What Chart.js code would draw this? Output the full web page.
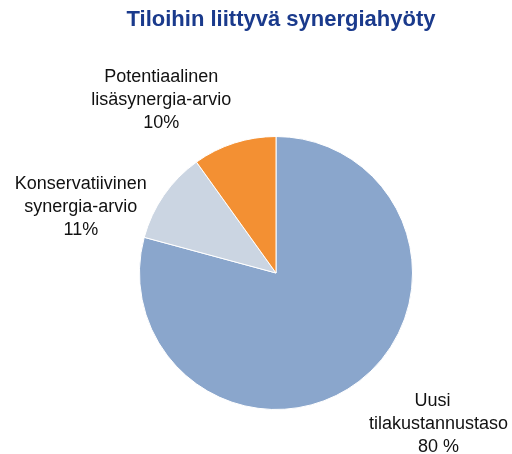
<!DOCTYPE html>
<html>
<head>
<meta charset="utf-8">
<script src="https://cdn.jsdelivr.net/npm/chart.js@4/dist/chart.umd.min.js"></script>
<style>
  html, body { margin: 0; padding: 0; background: #fff; }
  #wrap { width: 512px; height: 454px; }
</style>
</head>
<body>
<div id="wrap"><canvas id="myChart" width="512" height="454"></canvas></div>
<script>
'use strict';
let chartTitle = 'Tiloihin liittyvä synergiahyöty';
let categories = [
  ['Uusi', 'tilakustannustaso'],
  ['Konservatiivinen', 'synergia-arvio'],
  ['Potentiaalinen', 'lisäsynergia-arvio']
];
let values = [80, 11, 10];
let valueLabels = ['80 %', '11%', '10%'];
let colors = ['#8aa6cc', '#cbd5e2', '#f39033'];

// label spots, relative to pie centre in radius units (middle line)
let labelSpots = [
  { dx: 1.19, dy: 1.11 },
  { dx: -1.43, dy: -0.48 },
  { dx: -0.84, dy: -1.27 }
];

let labelPlugin = {
  id: 'sliceLabels',
  afterDraw(chart) {
    let ctx = chart.ctx;
    let arc = chart.getDatasetMeta(0).data[0];
    let r = arc.outerRadius;
    ctx.save();
    ctx.textAlign = 'center';
    ctx.textBaseline = 'middle';

    // title (drawn here so chart padding does not squeeze it)
    ctx.font = 'bold 22px "Liberation Sans", Arial, sans-serif';
    ctx.fillStyle = '#1a3a8c';
    ctx.fillText(chartTitle, 281, 20);

    ctx.font = '18px "Liberation Sans", Arial, sans-serif';
    ctx.fillStyle = '#111';
    for (let i = 0; i < categories.length; i++) {
      let x = arc.x + labelSpots[i].dx * r;
      let y = arc.y + labelSpots[i].dy * r;
      let lines = categories[i].concat([valueLabels[i]]);
      for (let j = 0; j < lines.length; j++) {
        let lx = x;
        if (i === 0 && j === 0) lx = x - 6;
        ctx.fillText(lines[j], lx, y + (j - 1) * 23);
      }
    }
    ctx.restore();
  }
};

let ctx = document.getElementById('myChart').getContext('2d');
let myChart = new Chart(ctx, {
  type: 'pie',
  data: {
    labels: categories.map(c => c.join(' ')),
    datasets: [{
      data: values,
      backgroundColor: colors,
      borderColor: '#ffffff',
      borderWidth: 1
    }]
  },
  options: {
    responsive: false,
    animation: false,
    layout: { padding: { left: 139, right: 99, top: 136, bottom: 44 } },
    plugins: {
      legend: { display: false },
      tooltip: { enabled: false },
      title: { display: false }
    }
  },
  plugins: [labelPlugin]
});
</script>
</body>
</html>
